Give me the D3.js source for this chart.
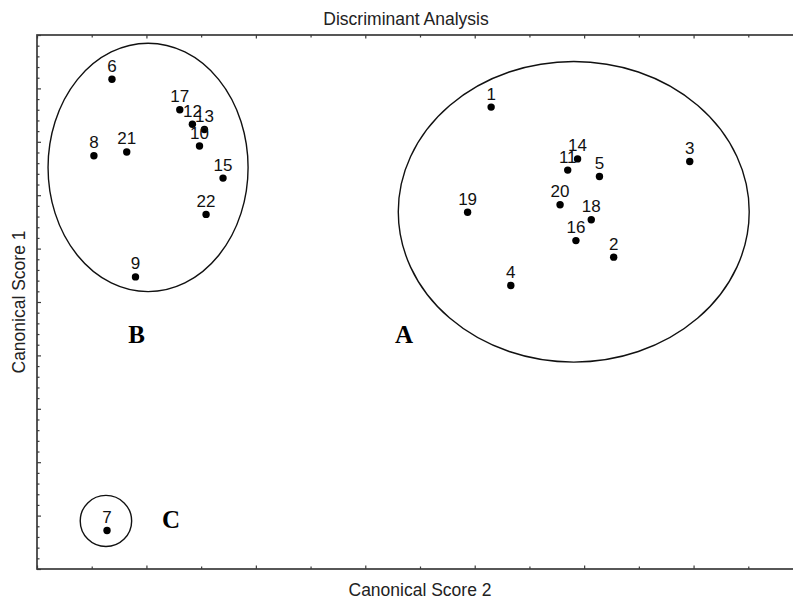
<!DOCTYPE html>
<html>
<head>
<meta charset="utf-8">
<script src="https://cdn.jsdelivr.net/npm/d3@7"></script>
<style>
  html, body { margin: 0; padding: 0; background: #fff; }
  svg { display: block; }
</style>
</head>
<body>
<svg id="chart" width="793" height="599"></svg>
<script>
// ---- data ----
const ids     = ["6","17","12","13","10","8","21","15","22","9",
                 "1","14","11","5","3","20","19","18","16","2","4",
                 "7"];
const score2  = [-4.63,-3.39,-3.16,-2.94,-3.03,-4.96,-4.36,-2.60,-2.91,-4.20,
                  2.30, 3.88, 3.70, 4.28, 5.93, 3.56, 1.87, 4.13, 3.85, 4.54, 2.66,
                 -4.72];
const score1  = [ 1.17, 0.60, 0.33, 0.23,-0.08,-0.26,-0.19,-0.68,-1.36,-2.53,
                  0.65,-0.32,-0.53,-0.65,-0.37,-1.18,-1.32,-1.46,-1.85,-2.16,-2.69,
                 -7.28];
const groupNames = ["A","B","C"];
const groupCx    = [ 3.81,-3.97,-4.74];
const groupCy    = [-1.31,-0.48,-7.10];
const groupRx    = [ 3.207, 1.828, 0.470];
const groupRy    = [ 2.815, 2.326, 0.478];
const groupLabX  = [ 0.71,-4.18,-3.55];
const groupLabY  = [-3.77,-3.77,-7.23];
const xDomain = [-6, 8];
const yDomain = [-8, 2];
const titleText = "Discriminant Analysis";
const xLabel = "Canonical Score 2";
const yLabel = "Canonical Score 1";

// ---- layout ----
const svg = d3.select("#chart");
const L = 37, T = 35, R = 803, B = 569;
const x = d3.scaleLinear().domain(xDomain).range([L, R]);
const y = d3.scaleLinear().domain(yDomain).range([B, T]);
const frameColor = "#3a3a3a";

// ticks
const xMajor = d3.range(xDomain[0], xDomain[1] + 0.001, 2);
const xMinor = d3.range(xDomain[0] + 1, xDomain[1], 2);
const yMajor = d3.range(yDomain[0], yDomain[1] + 0.001, 1);
const yMinor = d3.range(yDomain[0], yDomain[1], 0.2).filter(v => Math.abs(v - Math.round(v)) > 0.01);

function styleAxis(g) {
  g.select(".domain").remove();
  g.selectAll(".tick line").attr("stroke", frameColor).attr("stroke-width", 1.2);
  g.selectAll(".tick text").remove();
}

svg.append("g").attr("transform", `translate(${L},0)`)
  .call(d3.axisLeft(y).tickValues(yMajor).tickSize(-4).tickFormat("")).call(styleAxis);
svg.append("g").attr("transform", `translate(${L},0)`)
  .call(d3.axisLeft(y).tickValues(yMinor).tickSize(-2.5).tickFormat("")).call(styleAxis);
svg.append("g").attr("transform", `translate(0,${T})`)
  .call(d3.axisTop(x).tickValues(xMajor).tickSize(-3.5).tickFormat("")).call(styleAxis);
svg.append("g").attr("transform", `translate(0,${T})`)
  .call(d3.axisTop(x).tickValues(xMinor).tickSize(-2.5).tickFormat("")).call(styleAxis);
svg.append("g").attr("transform", `translate(0,${B})`)
  .call(d3.axisBottom(x).tickValues(xMajor).tickSize(-3.5).tickFormat("")).call(styleAxis);
svg.append("g").attr("transform", `translate(0,${B})`)
  .call(d3.axisBottom(x).tickValues(xMinor).tickSize(-2.5).tickFormat("")).call(styleAxis);

// frame
svg.append("rect")
  .attr("x", L).attr("y", T).attr("width", R - L).attr("height", B - T)
  .attr("fill", "none").attr("stroke", frameColor).attr("stroke-width", 1.7);

// ellipses
svg.append("g").selectAll("ellipse").data(groupNames).join("ellipse")
  .attr("cx", (d, i) => x(groupCx[i]))
  .attr("cy", (d, i) => y(groupCy[i]))
  .attr("rx", (d, i) => x(groupCx[i] + groupRx[i]) - x(groupCx[i]))
  .attr("ry", (d, i) => y(groupCy[i]) - y(groupCy[i] + groupRy[i]))
  .attr("fill", "none").attr("stroke", "#111").attr("stroke-width", 1.4);

// group letters
svg.append("g").selectAll("text").data(groupNames).join("text")
  .attr("x", (d, i) => x(groupLabX[i]))
  .attr("y", (d, i) => y(groupLabY[i]))
  .attr("text-anchor", "middle")
  .attr("font-family", "'Liberation Serif', 'Times New Roman', serif")
  .attr("font-weight", "bold")
  .attr("font-size", 25)
  .attr("fill", "#000")
  .text(d => d);

// points
svg.append("g").selectAll("circle").data(ids).join("circle")
  .attr("cx", (d, i) => x(score2[i]))
  .attr("cy", (d, i) => y(score1[i]))
  .attr("r", 3.7)
  .attr("fill", "#000");

svg.append("g").selectAll("text").data(ids).join("text")
  .attr("x", (d, i) => x(score2[i]))
  .attr("y", (d, i) => y(score1[i]) - 7.5)
  .attr("text-anchor", "middle")
  .attr("font-family", "'Liberation Sans', Arial, sans-serif")
  .attr("font-size", 17)
  .attr("fill", "#111")
  .text(d => d);

// titles
svg.append("text")
  .attr("x", 406).attr("y", 25)
  .attr("text-anchor", "middle")
  .attr("font-family", "'Liberation Sans', Arial, sans-serif")
  .attr("font-size", 17.5)
  .attr("fill", "#222")
  .text(titleText);

svg.append("text")
  .attr("x", (L + R) / 2).attr("y", 596)
  .attr("text-anchor", "middle")
  .attr("font-family", "'Liberation Sans', Arial, sans-serif")
  .attr("font-size", 17.5)
  .attr("fill", "#222")
  .text(xLabel);

svg.append("text")
  .attr("transform", `translate(25,${(T + B) / 2}) rotate(-90)`)
  .attr("text-anchor", "middle")
  .attr("font-family", "'Liberation Sans', Arial, sans-serif")
  .attr("font-size", 17.5)
  .attr("fill", "#222")
  .text(yLabel);
</script>
</body>
</html>
